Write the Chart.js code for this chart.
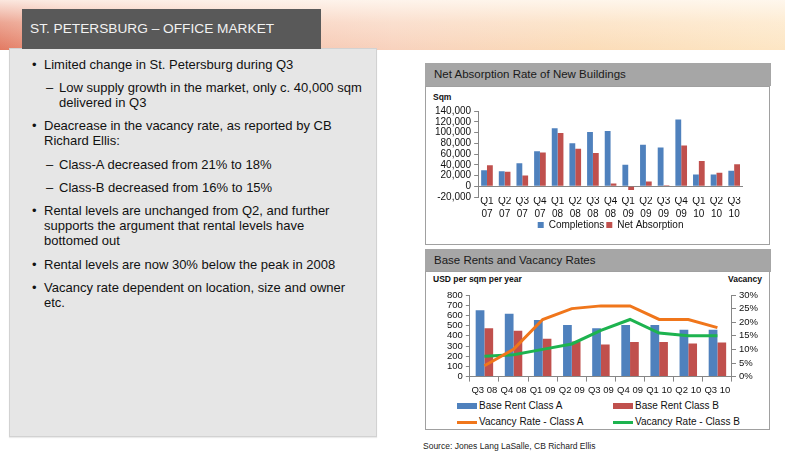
<!DOCTYPE html>
<html>
<head>
<meta charset="utf-8">
<script src="https://cdn.jsdelivr.net/npm/chart.js@4.4.1/dist/chart.umd.min.js"></script>
<style>
  html, body { margin: 0; padding: 0; }
  body {
    width: 785px; height: 452px; position: relative; overflow: hidden;
    background: #fff; font-family: Arial, "Liberation Sans", sans-serif;
  }
  .banner {
    position: absolute; left: 0; top: 0; width: 785px; height: 50px;
    background:
      linear-gradient(to bottom, rgba(255,250,244,0.85) 0%, rgba(255,248,240,0.35) 45%, rgba(255,255,255,0) 100%),
      linear-gradient(to right, #e27a62 0%, #ee9f88 8%, #f5c2ae 30%, #f8d2bd 50%, #fbdcb8 75%, #fde6c4 100%);
  }
  .title {
    position: absolute; left: 22px; top: 9px; width: 299px; height: 40px;
    background: #595959; color: #f2f2f2; font-size: 13.7px;
    line-height: 40px; padding-left: 8px; box-sizing: border-box; white-space: nowrap;
  }
  .panel {
    position: absolute; left: 9px; top: 48px; width: 368px; height: 389px;
    background: #e6e6e6; border: 1px solid #d2d2d2; box-sizing: border-box;
    box-shadow: 0 1px 1px rgba(0,0,0,0.08);
  }
  .bullets { position: absolute; left: 32px; top: 56.5px; font-size: 13px; color: #111; }
  .bullets div { position: relative; line-height: 15px; margin-bottom: 8.4px; white-space: nowrap; }
  .bullets .l1 { padding-left: 12px; }
  .bullets .l2 { padding-left: 27px; }
  .bullets .l1::before { content: "\2022"; position: absolute; left: 0; }
  .bullets .l2::before { content: "\2013"; position: absolute; left: 14px; }
  .head {
    position: absolute; left: 425px; width: 346px; height: 23px; background: #a6a6a6;
    color: #1a1a1a; font-size: 11.5px; line-height: 23px; padding-left: 9px; box-sizing: border-box;
  }
  .box {
    position: absolute; left: 425px; width: 345px; background: #fff;
    border: 1px solid #a0a0a0; box-sizing: border-box;
  }
  .unit { position: absolute; font-size: 8.5px; font-weight: bold; color: #111; white-space: nowrap; }
  canvas { position: absolute; }
  .legend2 { position: absolute; font-size: 10px; color: #111; white-space: nowrap; }
  .legend2 .item { position: absolute; height: 12px; line-height: 12px; }
  .legend2 .mark { position: absolute; left: 0; }
  .source { position: absolute; left: 423px; top: 441px; font-size: 8.5px; color: #222; white-space: nowrap; }
</style>
</head>
<body>
<div class="banner"></div>
<div class="panel"></div>
<div class="title">ST. PETERSBURG – OFFICE MARKET</div>

<div class="bullets">
  <div class="l1">Limited change in St. Petersburg during Q3</div>
  <div class="l2">Low supply growth in the market, only c. 40,000 sqm<br>delivered in Q3</div>
  <div class="l1">Deacrease in the vacancy rate, as reported by CB<br>Richard Ellis:</div>
  <div class="l2">Class-A decreased from 21% to 18%</div>
  <div class="l2">Class-B decreased from 16% to 15%</div>
  <div class="l1">Rental levels are unchanged from Q2, and further<br>supports the argument that rental levels have<br>bottomed out</div>
  <div class="l1">Rental levels are now 30% below the peak in 2008</div>
  <div class="l1">Vacancy rate dependent on location, size and owner<br>etc.</div>
</div>

<div class="head" style="top:63px">Net Absorption Rate of New Buildings</div>
<div class="box" style="top:86px;height:159px"></div>
<div class="unit" style="left:433px;top:92px">Sqm</div>
<canvas id="absorption-chart" width="343" height="157" style="left:426px;top:87px"></canvas>

<div class="head" style="top:249px">Base Rents and Vacancy Rates</div>
<div class="box" style="top:271px;height:159px"></div>
<div class="unit" style="left:433px;top:274px">USD per sqm per year</div>
<div class="unit" style="left:722px;top:274px;width:40px;text-align:right">Vacancy</div>
<canvas id="rent-chart" width="343" height="128" style="left:426px;top:272px"></canvas>
<div class="legend2" id="rent-legend" style="left:457px;top:400px"></div>

<div class="source">Source: Jones Lang LaSalle, CB Richard Ellis</div>

<script>
// Net absorption chart
const absorptionQuarters = [
    ['Q1', '07'], ['Q2', '07'], ['Q3', '07'], ['Q4', '07'],
    ['Q1', '08'], ['Q2', '08'], ['Q3', '08'], ['Q4', '08'],
    ['Q1', '09'], ['Q2', '09'], ['Q3', '09'], ['Q4', '09'],
    ['Q1', '10'], ['Q2', '10'], ['Q3', '10']
];
const completions = [30000, 28000, 43000, 65000, 108000, 80000, 101000, 103000, 40000, 77000, 72000, 124000, 22000, 22000, 29000];
const netAbsorption = [39000, 27000, 20000, 63000, 99000, 70000, 62000, 5000, -7000, 9000, 2000, 76000, 47000, 25000, 41000];
const sqmTicks = [-20000, 140000, 20000];

// Base rents / vacancy chart
const rentQuarters = ['Q3 08', 'Q4 08', 'Q1 09', 'Q2 09', 'Q3 09', 'Q4 09', 'Q1 10', 'Q2 10', 'Q3 10'];
const rentClassA = [650, 615, 555, 505, 475, 505, 505, 460, 460];
const rentClassB = [475, 450, 370, 345, 315, 340, 340, 325, 335];
const vacancyClassA = [4, 10, 21, 25, 26, 26, 21, 21, 18];
const vacancyClassB = [7.5, 8, 10, 12, 17, 21, 16, 15, 15];
const rentTicks = [0, 800, 100];
const vacancyTicks = [0, 30, 5];

const BLUE = '#4F81BD';
const RED = '#C0504D';
const ORANGE = '#F0761B';
const GREEN = '#1DB34F';
const AXIS = '#868686';

Chart.defaults.font.family = 'Arial, "Liberation Sans", sans-serif';
Chart.defaults.color = '#111';
Chart.defaults.animation = false;

function renderAbsorptionChart() {
    const ctx = document.getElementById('absorption-chart').getContext('2d');
    new Chart(ctx, {
        type: 'bar',
        data: {
            labels: absorptionQuarters,
            datasets: [{
                label: 'Completions',
                data: completions,
                backgroundColor: BLUE,
                categoryPercentage: 0.66,
                barPercentage: 1
            }, {
                label: 'Net Absorption',
                data: netAbsorption,
                backgroundColor: RED,
                categoryPercentage: 0.66,
                barPercentage: 1
            }]
        },
        options: {
            responsive: false,
            layout: { padding: { top: 24, bottom: 4, left: 6, right: 26 } },
            plugins: {
                tooltip: { enabled: false },
                legend: {
                    position: 'bottom',
                    fullSize: false,
                    labels: { boxWidth: 6, boxHeight: 6, padding: 2, font: { size: 10 } }
                }
            },
            scales: {
                x: {
                    grid: { display: false, drawTicks: false },
                    border: { display: false },
                    ticks: { padding: -3, maxRotation: 0, autoSkip: false, font: { size: 10, lineHeight: 1.35 } }
                },
                y: {
                    min: sqmTicks[0],
                    max: sqmTicks[1],
                    ticks: {
                        stepSize: sqmTicks[2],
                        autoSkip: false,
                        padding: 3,
                        font: { size: 10 },
                        callback: v => v.toLocaleString('en-US')
                    },
                    grid: {
                        color: c => c.tick && c.tick.value === 0 ? AXIS : 'transparent',
                        tickColor: AXIS,
                        tickLength: 4
                    },
                    border: { color: AXIS }
                }
            }
        }
    });
}

function renderRentChart() {
    const ctx = document.getElementById('rent-chart').getContext('2d');
    const chart = new Chart(ctx, {
        type: 'bar',
        data: {
            labels: rentQuarters,
            datasets: [{
                label: 'Base Rent Class A',
                data: rentClassA,
                backgroundColor: BLUE,
                categoryPercentage: 0.6,
                barPercentage: 1,
                yAxisID: 'y',
                order: 2
            }, {
                label: 'Base Rent Class B',
                data: rentClassB,
                backgroundColor: RED,
                categoryPercentage: 0.6,
                barPercentage: 1,
                yAxisID: 'y',
                order: 2
            }, {
                type: 'line',
                label: 'Vacancy Rate - Class A',
                data: vacancyClassA,
                borderColor: ORANGE,
                backgroundColor: ORANGE,
                borderWidth: 3,
                pointRadius: 0,
                tension: 0,
                yAxisID: 'y1',
                order: 1
            }, {
                type: 'line',
                label: 'Vacancy Rate - Class B',
                data: vacancyClassB,
                borderColor: GREEN,
                backgroundColor: GREEN,
                borderWidth: 3,
                pointRadius: 0,
                tension: 0,
                yAxisID: 'y1',
                order: 1
            }]
        },
        options: {
            responsive: false,
            layout: { padding: { top: 23, bottom: 1, left: 18, right: 8 } },
            plugins: {
                tooltip: { enabled: false },
                legend: { display: false }
            },
            scales: {
                x: {
                    grid: { drawOnChartArea: false, color: AXIS, tickLength: 5 },
                    border: { color: AXIS },
                    ticks: { padding: 3, maxRotation: 0, autoSkip: false, font: { size: 9.5 } }
                },
                y: {
                    position: 'left',
                    min: rentTicks[0],
                    max: rentTicks[1],
                    ticks: { stepSize: rentTicks[2], autoSkip: false, padding: 3, font: { size: 9.5 } },
                    grid: { drawOnChartArea: false, color: AXIS, tickLength: 4 },
                    border: { color: AXIS }
                },
                y1: {
                    position: 'right',
                    min: vacancyTicks[0],
                    max: vacancyTicks[1],
                    ticks: { stepSize: vacancyTicks[2], autoSkip: false, padding: 3, font: { size: 9.5 }, callback: v => v + '%' },
                    grid: { drawOnChartArea: false, color: AXIS, tickLength: 4 },
                    border: { color: AXIS }
                }
            }
        }
    });
    buildRentLegend(chart);
}

// two-column legend like the original slide
function buildRentLegend(chart) {
    const legend = document.getElementById('rent-legend');
    chart.data.datasets.forEach((ds, i) => {
        const col = i % 2;
        const row = Math.floor(i / 2);
        const item = document.createElement('div');
        item.className = 'item';
        item.style.left = (col * 156) + 'px';
        item.style.top = (row * 16) + 'px';
        item.style.paddingLeft = '22px';
        const mark = document.createElement('span');
        mark.className = 'mark';
        mark.style.width = '20px';
        if (ds.type === 'line') {
            mark.style.background = ds.borderColor;
            mark.style.height = '3px';
            mark.style.top = '5px';
        } else {
            mark.style.background = ds.backgroundColor;
            mark.style.height = '6px';
            mark.style.top = '3px';
        }
        item.appendChild(mark);
        item.appendChild(document.createTextNode(ds.label));
        legend.appendChild(item);
    });
}

renderAbsorptionChart();
renderRentChart();
</script>
</body>
</html>
